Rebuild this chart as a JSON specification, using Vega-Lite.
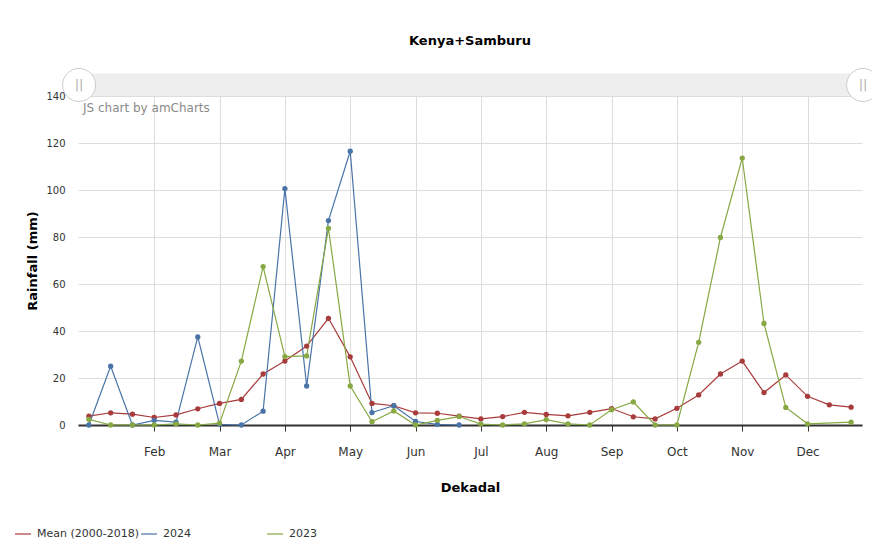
{
  "$schema": "https://vega.github.io/schema/vega-lite/v6.json",
  "autosize": "none",
  "padding": {"left": 78, "top": 96, "right": 10, "bottom": 125},
  "width": 784,
  "height": 329,
  "background": "white",
  "config": {
    "font": "DejaVu Sans",
    "view": {"stroke": null}
  },
  "title": {
    "text": "Kenya+Samburu",
    "fontSize": 13,
    "fontWeight": "bold",
    "color": "#000000",
    "anchor": "middle",
    "frame": "group",
    "offset": 18
  },
  "layer": [
    {
      "data": {"values": [{}]},
      "mark": {"type": "rect", "color": "#eeeeee", "clip": false},
      "encoding": {
        "x": {"datum": -0.5, "type": "quantitative", "scale": {"domain": [-0.5, 35.5], "nice": false, "zero": false}},
        "x2": {"datum": 35.5},
        "y": {"datum": 140, "type": "quantitative"},
        "y2": {"datum": 149.6}
      }
    },
    {
      "data": {"values": [{}]},
      "mark": {"type": "text", "align": "left", "baseline": "middle", "fontSize": 12, "color": "#8a8a8a", "text": "JS chart by amCharts"},
      "encoding": {
        "x": {"datum": -0.27, "type": "quantitative"},
        "y": {"datum": 134.9, "type": "quantitative"}
      }
    },
    {
      "data": {
        "values": [
          {"d": 0, "s": "Mean (2000-2018)", "v": 3.8},
          {"d": 1, "s": "Mean (2000-2018)", "v": 5.2},
          {"d": 2, "s": "Mean (2000-2018)", "v": 4.6},
          {"d": 3, "s": "Mean (2000-2018)", "v": 3.2},
          {"d": 4, "s": "Mean (2000-2018)", "v": 4.3},
          {"d": 5, "s": "Mean (2000-2018)", "v": 6.9},
          {"d": 6, "s": "Mean (2000-2018)", "v": 9.2},
          {"d": 7, "s": "Mean (2000-2018)", "v": 10.9},
          {"d": 8, "s": "Mean (2000-2018)", "v": 21.7},
          {"d": 9, "s": "Mean (2000-2018)", "v": 27.2},
          {"d": 10, "s": "Mean (2000-2018)", "v": 33.6},
          {"d": 11, "s": "Mean (2000-2018)", "v": 45.4},
          {"d": 12, "s": "Mean (2000-2018)", "v": 29.0},
          {"d": 13, "s": "Mean (2000-2018)", "v": 9.2},
          {"d": 14, "s": "Mean (2000-2018)", "v": 8.2},
          {"d": 15, "s": "Mean (2000-2018)", "v": 5.2},
          {"d": 16, "s": "Mean (2000-2018)", "v": 5.0},
          {"d": 17, "s": "Mean (2000-2018)", "v": 3.8},
          {"d": 18, "s": "Mean (2000-2018)", "v": 2.6},
          {"d": 19, "s": "Mean (2000-2018)", "v": 3.6},
          {"d": 20, "s": "Mean (2000-2018)", "v": 5.4},
          {"d": 21, "s": "Mean (2000-2018)", "v": 4.5},
          {"d": 22, "s": "Mean (2000-2018)", "v": 3.9},
          {"d": 23, "s": "Mean (2000-2018)", "v": 5.4},
          {"d": 24, "s": "Mean (2000-2018)", "v": 7.0},
          {"d": 25, "s": "Mean (2000-2018)", "v": 3.5},
          {"d": 26, "s": "Mean (2000-2018)", "v": 2.6},
          {"d": 27, "s": "Mean (2000-2018)", "v": 7.1},
          {"d": 28, "s": "Mean (2000-2018)", "v": 12.8},
          {"d": 29, "s": "Mean (2000-2018)", "v": 21.7},
          {"d": 30, "s": "Mean (2000-2018)", "v": 27.2},
          {"d": 31, "s": "Mean (2000-2018)", "v": 13.8},
          {"d": 32, "s": "Mean (2000-2018)", "v": 21.3},
          {"d": 33, "s": "Mean (2000-2018)", "v": 12.2},
          {"d": 34, "s": "Mean (2000-2018)", "v": 8.6},
          {"d": 35, "s": "Mean (2000-2018)", "v": 7.6},
          {"d": 0, "s": "2024", "v": 0},
          {"d": 1, "s": "2024", "v": 25},
          {"d": 2, "s": "2024", "v": 0},
          {"d": 3, "s": "2024", "v": 2},
          {"d": 4, "s": "2024", "v": 1.2},
          {"d": 5, "s": "2024", "v": 37.5},
          {"d": 6, "s": "2024", "v": 0.3},
          {"d": 7, "s": "2024", "v": 0},
          {"d": 8, "s": "2024", "v": 5.9},
          {"d": 9, "s": "2024", "v": 100.6},
          {"d": 10, "s": "2024", "v": 16.6},
          {"d": 11, "s": "2024", "v": 87},
          {"d": 12, "s": "2024", "v": 116.5},
          {"d": 13, "s": "2024", "v": 5.3},
          {"d": 14, "s": "2024", "v": 8.2},
          {"d": 15, "s": "2024", "v": 1.5},
          {"d": 16, "s": "2024", "v": 0.3},
          {"d": 17, "s": "2024", "v": 0},
          {"d": 0, "s": "2023", "v": 2.4},
          {"d": 1, "s": "2023", "v": 0},
          {"d": 2, "s": "2023", "v": 0},
          {"d": 3, "s": "2023", "v": 0},
          {"d": 4, "s": "2023", "v": 0.5},
          {"d": 5, "s": "2023", "v": 0},
          {"d": 6, "s": "2023", "v": 0.8},
          {"d": 7, "s": "2023", "v": 27.2},
          {"d": 8, "s": "2023", "v": 67.4},
          {"d": 9, "s": "2023", "v": 29.1},
          {"d": 10, "s": "2023", "v": 29.4},
          {"d": 11, "s": "2023", "v": 83.7},
          {"d": 12, "s": "2023", "v": 16.6},
          {"d": 13, "s": "2023", "v": 1.4},
          {"d": 14, "s": "2023", "v": 6.0},
          {"d": 15, "s": "2023", "v": 0},
          {"d": 16, "s": "2023", "v": 2.0},
          {"d": 17, "s": "2023", "v": 3.6},
          {"d": 18, "s": "2023", "v": 0.4},
          {"d": 19, "s": "2023", "v": 0},
          {"d": 20, "s": "2023", "v": 0.5},
          {"d": 21, "s": "2023", "v": 2.3},
          {"d": 22, "s": "2023", "v": 0.5},
          {"d": 23, "s": "2023", "v": 0},
          {"d": 24, "s": "2023", "v": 6.5},
          {"d": 25, "s": "2023", "v": 9.8},
          {"d": 26, "s": "2023", "v": 0},
          {"d": 27, "s": "2023", "v": 0},
          {"d": 28, "s": "2023", "v": 35.2},
          {"d": 29, "s": "2023", "v": 79.8},
          {"d": 30, "s": "2023", "v": 113.6},
          {"d": 31, "s": "2023", "v": 43.2},
          {"d": 32, "s": "2023", "v": 7.5},
          {"d": 33, "s": "2023", "v": 0.5},
          {"d": 35, "s": "2023", "v": 1.2}
        ]
      },
      "mark": {"type": "line", "strokeWidth": 1.2, "point": {"filled": true, "size": 28, "opacity": 1}},
      "encoding": {
        "x": {
          "field": "d",
          "type": "quantitative",
          "scale": {"domain": [-0.5, 35.5], "nice": false, "zero": false},
          "axis": {
            "title": "Dekadal",
            "titleFontSize": 13,
            "titleFontWeight": "bold",
            "titleColor": "#000000",
            "titlePadding": 24,
            "values": [3, 6, 9, 12, 15, 18, 21, 24, 27, 30, 33],
            "labelExpr": "['Jan','Feb','Mar','Apr','May','Jun','Jul','Aug','Sep','Oct','Nov','Dec'][datum.value / 3]",
            "labelFontSize": 12,
            "labelColor": "#333333",
            "labelPadding": 15,
            "labelFlush": false,
            "tickSize": 6,
            "tickColor": "#333333",
            "domainColor": "#333333",
            "domainWidth": 2,
            "grid": true,
            "gridColor": "#dddddd",
            "gridWidth": 1
          }
        },
        "y": {
          "field": "v",
          "type": "quantitative",
          "scale": {"domain": [0, 140], "nice": false},
          "axis": {
            "title": "Rainfall (mm)",
            "titleFontSize": 13,
            "titleFontWeight": "bold",
            "titleColor": "#000000",
            "titlePadding": 6,
            "values": [0, 20, 40, 60, 80, 100, 120, 140],
            "labelFontSize": 10,
            "labelColor": "#333333",
            "labelPadding": 13,
            "ticks": false,
            "domain": false,
            "grid": true,
            "gridColor": "#dddddd",
            "gridWidth": 1
          }
        },
        "color": {
          "field": "s",
          "type": "nominal",
          "sort": ["Mean (2000-2018)", "2024", "2023"],
          "scale": {"domain": ["Mean (2000-2018)", "2024", "2023"], "range": ["#a83b3b", "#4a74a8", "#87a843"]},
          "legend": {
            "title": null,
            "orient": "none",
            "legendX": -64,
            "legendY": 429,
            "direction": "horizontal",
            "gridAlign": "all",
            "columnPadding": -5,
            "symbolType": "stroke",
            "symbolSize": 256,
            "symbolStrokeWidth": 1.2,
            "labelFontSize": 11,
            "labelColor": "#333333",
            "labelOffset": 5
          }
        }
      }
    },
    {
      "data": {"values": [{}]},
      "mark": {"type": "point", "shape": "circle", "filled": true, "fill": "white", "stroke": "#cccccc", "strokeWidth": 1, "size": 1089, "opacity": 1, "clip": false},
      "encoding": {
        "x": {"datum": -0.45, "type": "quantitative"},
        "y": {"datum": 144.7, "type": "quantitative"}
      }
    },
    {
      "data": {"values": [{}]},
      "mark": {"type": "point", "shape": "circle", "filled": true, "fill": "white", "stroke": "#cccccc", "strokeWidth": 1, "size": 1089, "opacity": 1, "clip": false},
      "encoding": {
        "x": {"datum": 35.55, "type": "quantitative"},
        "y": {"datum": 144.7, "type": "quantitative"}
      }
    },
    {
      "data": {"values": [{}]},
      "mark": {"type": "text", "align": "center", "baseline": "middle", "fontSize": 13, "color": "#b0b0b0", "text": "||"},
      "encoding": {
        "x": {"datum": -0.45, "type": "quantitative"},
        "y": {"datum": 144.7, "type": "quantitative"}
      }
    },
    {
      "data": {"values": [{}]},
      "mark": {"type": "text", "align": "center", "baseline": "middle", "fontSize": 13, "color": "#b0b0b0", "text": "||"},
      "encoding": {
        "x": {"datum": 35.55, "type": "quantitative"},
        "y": {"datum": 144.7, "type": "quantitative"}
      }
    }
  ]
}
